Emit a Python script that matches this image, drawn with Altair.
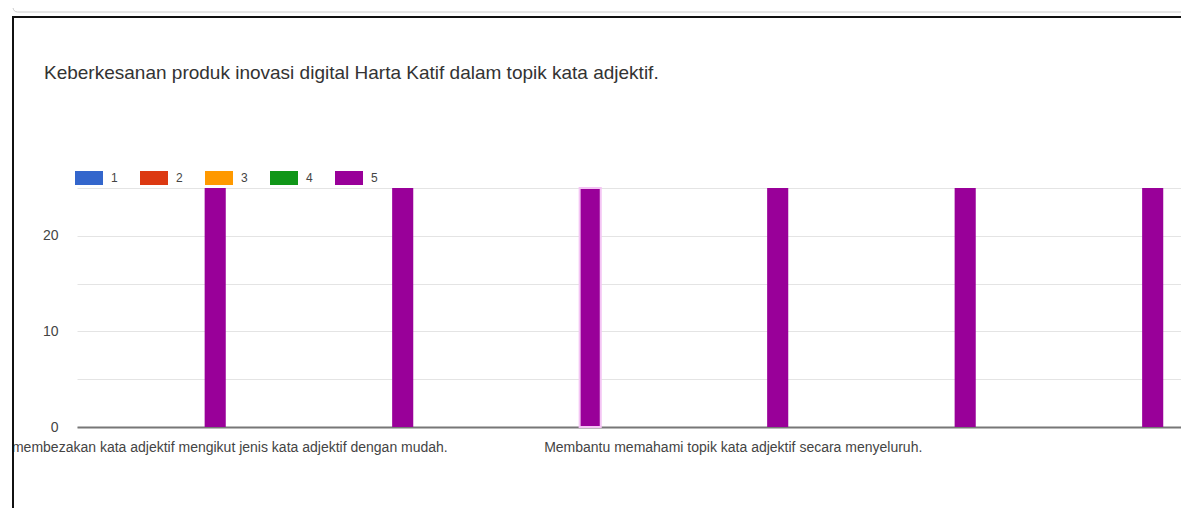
import altair as alt
import pandas as pd

# ---- data ----
categories = ["Item 1", "Item 2", "Item 3", "Item 4", "Item 5", "Item 6"]
category_labels = [
    "membezakan kata adjektif mengikut jenis kata adjektif dengan mudah.",
    "",
    "",
    "Membantu memahami topik kata adjektif secara menyeluruh.",
    "",
    "",
]
scores = [1, 2, 3, 4, 5]
score_colors = ["#3366cc", "#dc3912", "#ff9900", "#109618", "#990099"]
counts_1 = [0, 0, 0, 0, 0, 0]
counts_2 = [0, 0, 0, 0, 0, 0]
counts_3 = [0, 0, 0, 0, 0, 0]
counts_4 = [0, 0, 0, 0, 0, 0]
counts_5 = [25, 25, 25, 25, 25, 25]
y_ticks = [0, 5, 10, 15, 20, 25]
title_text = "Keberkesanan produk inovasi digital Harta Katif dalam topik kata adjektif."

series = {1: counts_1, 2: counts_2, 3: counts_3, 4: counts_4, 5: counts_5}
rows = []
for s in scores:
    for c, v in zip(categories, series[s]):
        rows.append({"kategori": c, "skor": s, "jumlah": v})
df = pd.DataFrame(rows)

parts = [f"datum.value === '{c}' ? '{l}'" for c, l in zip(categories, category_labels) if l]
label_expr = " : ".join(parts) + " : ''"

FONT = "Liberation Sans"

bars = alt.Chart(df).mark_bar().encode(
    x=alt.X(
        "kategori:N",
        sort=categories,
        scale=alt.Scale(range=[0, 1125], paddingInner=0.4133, paddingOuter=0.2067),
        axis=alt.Axis(
            title=None,
            labelExpr=label_expr,
            labelAngle=0,
            labelFontSize=14,
            labelColor="#444444",
            labelFont=FONT,
            labelLimit=2000,
            labelOverlap=False,
            labelBound=False,
            labelFlush=False,
            labelPadding=13,
            ticks=False,
            grid=False,
            domainColor="#777777",
            domainWidth=2,
            labelAlign={"condition": {"test": "datum.value === 'Item 1'", "value": "right"}, "value": "center"},
            labelOffset={"condition": {"test": "datum.value === 'Item 1'", "value": 277}, "value": 0},
        ),
    ),
    xOffset=alt.XOffset("skor:N", sort=scores, scale=alt.Scale(paddingInner=0.05)),
    y=alt.Y(
        "jumlah:Q",
        scale=alt.Scale(domain=[0, 25], nice=False),
        axis=alt.Axis(
            title=None,
            values=y_ticks,
            labelExpr="datum.value % 10 === 0 ? datum.label : ''",
            ticks=False,
            domain=False,
            gridColor="#e4e4e4",
            labelFontSize=14,
            labelColor="#444444",
            labelFont=FONT,
            labelPadding=19,
        ),
    ),
    color=alt.Color(
        "skor:N",
        sort=scores,
        scale=alt.Scale(domain=scores, range=score_colors),
        legend=alt.Legend(
            title=None,
            orient="none",
            legendX=-2,
            legendY=-24,
            direction="horizontal",
            symbolType="M-1,-0.5H1V0.5H-1Z",
            symbolSize=784,
            symbolStrokeWidth=0,
            labelFontSize=12,
            labelColor="#444444",
            labelFont=FONT,
            labelOffset=8,
            columnPadding=22,
            padding=0,
        ),
    ),
    stroke=alt.condition(
        "datum.kategori === 'Item 3' && datum.skor === 5",
        alt.value("#f4c4f4"),
        alt.value("transparent"),
    ),
    strokeWidth=alt.value(2),
)

frame = alt.Chart(pd.DataFrame({"k": [0]})).mark_rect(
    fill="transparent", stroke="#111111", strokeWidth=2
).encode(
    x=alt.value(-64), x2=alt.value(3000), y=alt.value(-171), y2=alt.value(3000)
)

card = alt.Chart(pd.DataFrame({"k": [0]})).mark_rect(
    fill="transparent", stroke="#cccccc", strokeWidth=1, cornerRadius=5
).encode(
    x=alt.value(-64), x2=alt.value(3000), y=alt.value(-185), y2=alt.value(-176)
)

chart = alt.layer(card, frame, bars).properties(
    width=1104,
    height=239,
    title=alt.TitleParams(
        title_text,
        anchor="start",
        frame="group",
        dx=-33,
        dy=80,
        fontSize=19,
        font=FONT,
        fontWeight="normal",
        color="#333333",
        offset=0,
    ),
    autosize=alt.AutoSizeParams(type="none"),
    padding={"left": 69, "top": 180, "right": 0, "bottom": 81},
    background="#ffffff",
).configure(font=FONT).configure_view(strokeWidth=0, stroke="transparent")

chart.save("out.html", embed_options={"renderer": "svg", "actions": False})
